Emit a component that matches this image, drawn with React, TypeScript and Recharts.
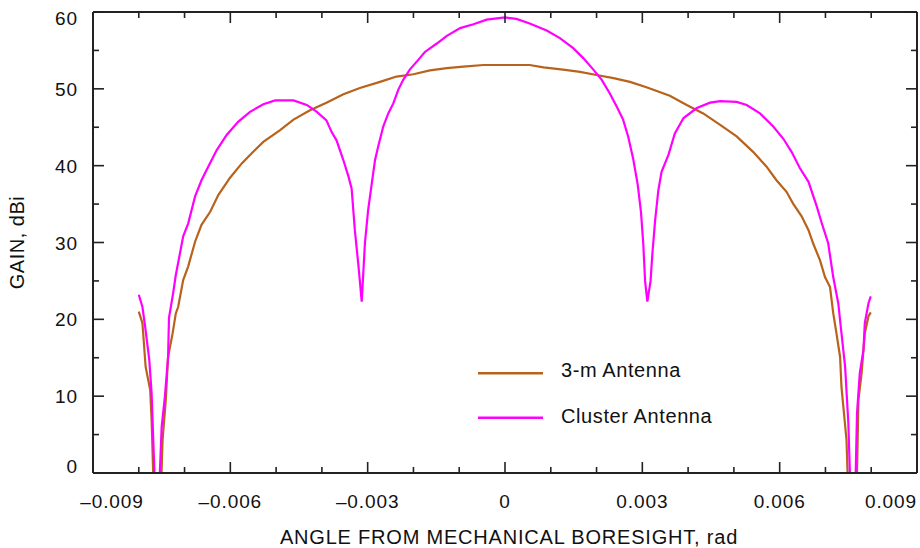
import React from "react";
import { LineChart, Line, XAxis, YAxis, Legend } from "recharts";

// ---- Data ----
const clusterAngle = [
  -0.008, -0.00792, -0.00786, -0.00777, -0.00772, -0.00764, -0.00756, -0.0075, -0.00743, -0.00736,
  -0.00734, -0.00725, -0.00719, -0.0071, -0.00703, -0.00692, -0.00677, -0.00663, -0.00648, -0.0063,
  -0.00608, -0.00583, -0.00557, -0.00528, -0.00502, -0.00462, -0.00433, -0.00411, -0.0039, -0.00379,
  -0.00368, -0.00353, -0.00342, -0.00335, -0.00328, -0.0032, -0.00313, -0.00306, -0.00299, -0.00291,
  -0.00284, -0.00277, -0.00266, -0.00255, -0.00244, -0.00233, -0.00222, -0.00208, -0.00189, -0.00175,
  -0.00149, -0.00127, -0.00098, -0.00069, -0.0004, 0, 0.00025, 0.00054, 0.00091, 0.0012,
  0.00149, 0.00171, 0.00193, 0.00211, 0.00229, 0.00244, 0.00258, 0.00269, 0.0028, 0.0029,
  0.00297, 0.00302, 0.00306, 0.00311, 0.00318, 0.00322, 0.00328, 0.00335, 0.00342, 0.00357,
  0.00371, 0.0039, 0.00419, 0.00448, 0.0047, 0.00506, 0.00528, 0.00557, 0.00586, 0.00608,
  0.00626, 0.00644, 0.00663, 0.00681, 0.00692, 0.00706, 0.00717, 0.00728, 0.00735, 0.00743,
  0.0075, 0.00755, 0.00765, 0.00769, 0.00775, 0.00783, 0.00786, 0.00794, 0.00799,
];
const clusterGain = [
  23.2, 21.6, 19.0, 14.7, 10.4, -3, -3, 6.0, 9.9, 15.1,
  20.2, 23.4, 25.8, 28.6, 30.8, 32.5, 36.0, 38.1, 39.9, 42.0,
  44.0, 45.7, 47.0, 48.0, 48.5, 48.5, 47.9, 47.0, 45.9, 44.4,
  43.3, 40.7, 38.6, 37.0, 31.6, 26.9, 22.3, 29.9, 34.2, 37.7,
  40.7, 42.5, 45.1, 46.8, 48.1, 49.9, 51.2, 52.5, 53.8, 54.8,
  55.9, 56.9, 57.9, 58.4, 59.0, 59.3, 59.1, 58.5, 57.6, 56.6,
  55.3, 54.0, 52.5, 51.2, 49.4, 47.7, 46.0, 43.8, 40.9, 37.5,
  34.0, 29.9, 25.0, 22.3, 25.0, 28.6, 32.9, 36.8, 39.2, 41.4,
  44.2, 46.2, 47.5, 48.2, 48.4, 48.3, 47.9, 46.8, 45.1, 43.5,
  41.8, 39.7, 37.9, 34.7, 32.5, 29.9, 25.5, 22.1, 18.2, 13.8,
  6.5, -3, -3, 7.8, 13.0, 16.0, 19.5, 22.1, 23.0,
];

const dishAngle = [
  -0.008, -0.00792, -0.00785, -0.00775, -0.00772, -0.00767, -0.00752, -0.00748, -0.00741, -0.00736,
  -0.00726, -0.00719, -0.00714, -0.00703, -0.00692, -0.00677, -0.00663, -0.00644, -0.00626, -0.00601,
  -0.00575, -0.00557, -0.00528, -0.00492, -0.00462, -0.00426, -0.0039, -0.00353, -0.00317, -0.00273,
  -0.00237, -0.002, -0.00164, -0.00127, -0.00091, -0.00047, 0.00004, 0.00054, 0.00084, 0.00127,
  0.00164, 0.002, 0.00237, 0.00273, 0.00309, 0.0036, 0.00397, 0.00433, 0.0047, 0.00506,
  0.00542, 0.00571, 0.00593, 0.00615, 0.00629, 0.00648, 0.00663, 0.00673, 0.00688, 0.00699,
  0.0071, 0.00717, 0.00724, 0.00732, 0.00735, 0.00746, 0.0075, 0.00768, 0.00772, 0.00779,
  0.00786, 0.00794, 0.00799,
];
const dishGain = [
  21.0, 19.5, 13.8, 10.8, 6.9, -3, -3, 4.3, 9.5, 15.1,
  18.2, 20.8, 21.6, 25.1, 26.9, 30.1, 32.3, 34.0, 36.2, 38.4,
  40.3, 41.4, 43.1, 44.6, 46.0, 47.2, 48.2, 49.3, 50.1, 50.9,
  51.6, 51.9, 52.4, 52.7, 52.9, 53.1, 53.1, 53.1, 52.8, 52.5,
  52.2, 51.8, 51.4, 50.9, 50.2, 49.1, 47.9, 46.8, 45.3, 43.8,
  41.8, 39.9, 38.1, 36.6, 35.1, 33.4, 31.6, 29.9, 27.7, 25.5,
  24.2, 20.8, 18.2, 15.1, 11.2, 4.3, -3, -3, 9.5, 13.0,
  18.2, 20.4, 20.9,
];

const xTicks = [
  -0.009, -0.008, -0.007, -0.006, -0.005, -0.004, -0.003, -0.002, -0.001, 0,
  0.001, 0.002, 0.003, 0.004, 0.005, 0.006, 0.007, 0.008, 0.009,
];
const xMajorTicks = [-0.009, -0.006, -0.003, 0, 0.003, 0.006, 0.009];
const xTickLabels = ["\u20130.009", "\u20130.006", "\u20130.003", "0", "0.003", "0.006", "0.009"];

const yTicks = [0, 5, 10, 15, 20, 25, 30, 35, 40, 45, 50, 55, 60];
const yMajorTicks = [0, 10, 20, 30, 40, 50, 60];
const yTickLabels = ["0", "10", "20", "30", "40", "50", "60"];

const seriesNames = ["3-m Antenna", "Cluster Antenna"];
const seriesColors = ["#b8621c", "#ff00ff"];

const dishData = dishAngle.map((a, i) => ({ angle: a, gain: dishGain[i] }));
const clusterData = clusterAngle.map((a, i) => ({ angle: a, gain: clusterGain[i] }));

const FONT = "'Liberation Sans', Arial, Helvetica, sans-serif";
const AXIS_COLOR = "#222";
const TEXT_COLOR = "#111";

const majorIndexX = (v: number) =>
  xMajorTicks.findIndex((m) => Math.abs(m - v) < 1e-7);
const majorIndexY = (v: number) =>
  yMajorTicks.findIndex((m) => Math.abs(m - v) < 1e-7);

const BottomTick = (props: any) => {
  const { x, y, payload } = props;
  const mi = majorIndexX(payload.value);
  const len = mi >= 0 ? 11 : 6;
  let tx = x;
  let anchor: "middle" | "end" = "middle";
  if (mi === 0) tx = x + 19;
  if (mi === xMajorTicks.length - 1) anchor = "end";
  return (
    <g>
      <line x1={x} y1={y} x2={x} y2={y - len} stroke={AXIS_COLOR} strokeWidth={1.6} />
      {mi >= 0 && (
        <text
          x={tx}
          y={y + 35}
          textAnchor={anchor}
          fontFamily={FONT}
          fontSize={19}
          letterSpacing={0.9}
          fill={TEXT_COLOR}
        >
          {xTickLabels[mi]}
        </text>
      )}
    </g>
  );
};

const TopTick = (props: any) => {
  const { x, y, payload } = props;
  const mi = majorIndexX(payload.value);
  const len = mi >= 0 ? 11 : 6;
  return <line x1={x} y1={y} x2={x} y2={y + len} stroke={AXIS_COLOR} strokeWidth={1.6} />;
};

const LeftTick = (props: any) => {
  const { x, y, payload } = props;
  const mi = majorIndexY(payload.value);
  const len = mi >= 0 ? 11 : 6;
  let ty = y + 7;
  if (mi === 0) ty = y;
  if (mi === yMajorTicks.length - 1) ty = y + 13;
  return (
    <g>
      <line x1={x} y1={y} x2={x + len} y2={y} stroke={AXIS_COLOR} strokeWidth={1.6} />
      {mi >= 0 && (
        <text
          x={x - 15}
          y={ty}
          textAnchor="end"
          fontFamily={FONT}
          fontSize={19}
          letterSpacing={0.9}
          fill={TEXT_COLOR}
        >
          {yTickLabels[mi]}
        </text>
      )}
    </g>
  );
};

const RightTick = (props: any) => {
  const { x, y, payload } = props;
  const mi = majorIndexY(payload.value);
  const len = mi >= 0 ? 11 : 6;
  return <line x1={x} y1={y} x2={x - len} y2={y} stroke={AXIS_COLOR} strokeWidth={1.6} />;
};

const XLabel = (props: any) => {
  const vb = props.viewBox || { x: 93, y: 473, width: 824, height: 75 };
  return (
    <text
      x={vb.x + vb.width / 2 + 4}
      y={vb.y + 71}
      textAnchor="middle"
      fontFamily={FONT}
      fontSize={20}
      letterSpacing={0.8}
      fill={TEXT_COLOR}
    >
      ANGLE FROM MECHANICAL BORESIGHT, rad
    </text>
  );
};

const YLabel = (props: any) => {
  const vb = props.viewBox || { x: 0, y: 12, width: 93, height: 461 };
  const cx = vb.x + 23.5;
  const cy = vb.y + vb.height / 2;
  return (
    <text
      x={cx}
      y={cy}
      transform={`rotate(-90, ${cx}, ${cy})`}
      textAnchor="middle"
      fontFamily={FONT}
      fontSize={20}
      letterSpacing={0.5}
      fill={TEXT_COLOR}
    >
      GAIN, dBi
    </text>
  );
};

const LegendContent = () => (
  <svg width={300} height={90} style={{ display: "block", overflow: "visible" }}>
    {seriesNames.map((name, i) => (
      <g key={name}>
        <line
          x1={13}
          x2={78}
          y1={28.3 + i * 44.4}
          y2={28.3 + i * 44.4}
          stroke={seriesColors[i]}
          strokeWidth={2.4}
        />
        <text
          x={96}
          y={32 + i * 45.5}
          fontFamily={FONT}
          fontSize={20}
          letterSpacing={0.6}
          fill={TEXT_COLOR}
        >
          {name}
        </text>
      </g>
    ))}
  </svg>
);

export default function App() {
  return (
    <div style={{ position: "absolute", left: 0, top: 0, width: 920, height: 548, background: "#fff" }}>
      <LineChart width={920} height={548} margin={{ top: 0, right: 0, bottom: 0, left: 0 }}>
        <XAxis
          dataKey="angle"
          type="number"
          domain={[-0.009, 0.009]}
          allowDataOverflow
          ticks={xTicks}
          interval={0}
          height={75}
          tickSize={0}
          tickMargin={0}
          tickLine={false}
          axisLine={{ stroke: AXIS_COLOR, strokeWidth: 2 }}
          tick={<BottomTick />}
          label={<XLabel />}
        />
        <XAxis
          xAxisId="top"
          orientation="top"
          dataKey="angle"
          type="number"
          domain={[-0.009, 0.009]}
          allowDataOverflow
          ticks={xTicks}
          interval={0}
          height={12}
          tickSize={0}
          tickMargin={0}
          tickLine={false}
          axisLine={{ stroke: AXIS_COLOR, strokeWidth: 2 }}
          tick={<TopTick />}
        />
        <YAxis
          type="number"
          domain={[0, 60]}
          allowDataOverflow
          ticks={yTicks}
          interval={0}
          width={93}
          tickSize={0}
          tickMargin={0}
          tickLine={false}
          axisLine={{ stroke: AXIS_COLOR, strokeWidth: 2 }}
          tick={<LeftTick />}
          label={<YLabel />}
        />
        <YAxis
          yAxisId="right"
          orientation="right"
          type="number"
          domain={[0, 60]}
          allowDataOverflow
          ticks={yTicks}
          interval={0}
          width={3}
          tickSize={0}
          tickMargin={0}
          tickLine={false}
          axisLine={{ stroke: AXIS_COLOR, strokeWidth: 2 }}
          tick={<RightTick />}
        />
        <Legend
          layout="vertical"
          align="center"
          verticalAlign="middle"
          content={<LegendContent />}
          wrapperStyle={{ left: 465, top: 345, width: 300, height: 90 }}
        />
        <Line
          data={dishData}
          dataKey="gain"
          name={seriesNames[0]}
          type="linear"
          stroke={seriesColors[0]}
          strokeWidth={2.2}
          dot={false}
          activeDot={false}
          isAnimationActive={false}
        />
        <Line
          data={clusterData}
          dataKey="gain"
          name={seriesNames[1]}
          type="linear"
          stroke={seriesColors[1]}
          strokeWidth={2.2}
          dot={false}
          activeDot={false}
          isAnimationActive={false}
        />
      </LineChart>
    </div>
  );
}
